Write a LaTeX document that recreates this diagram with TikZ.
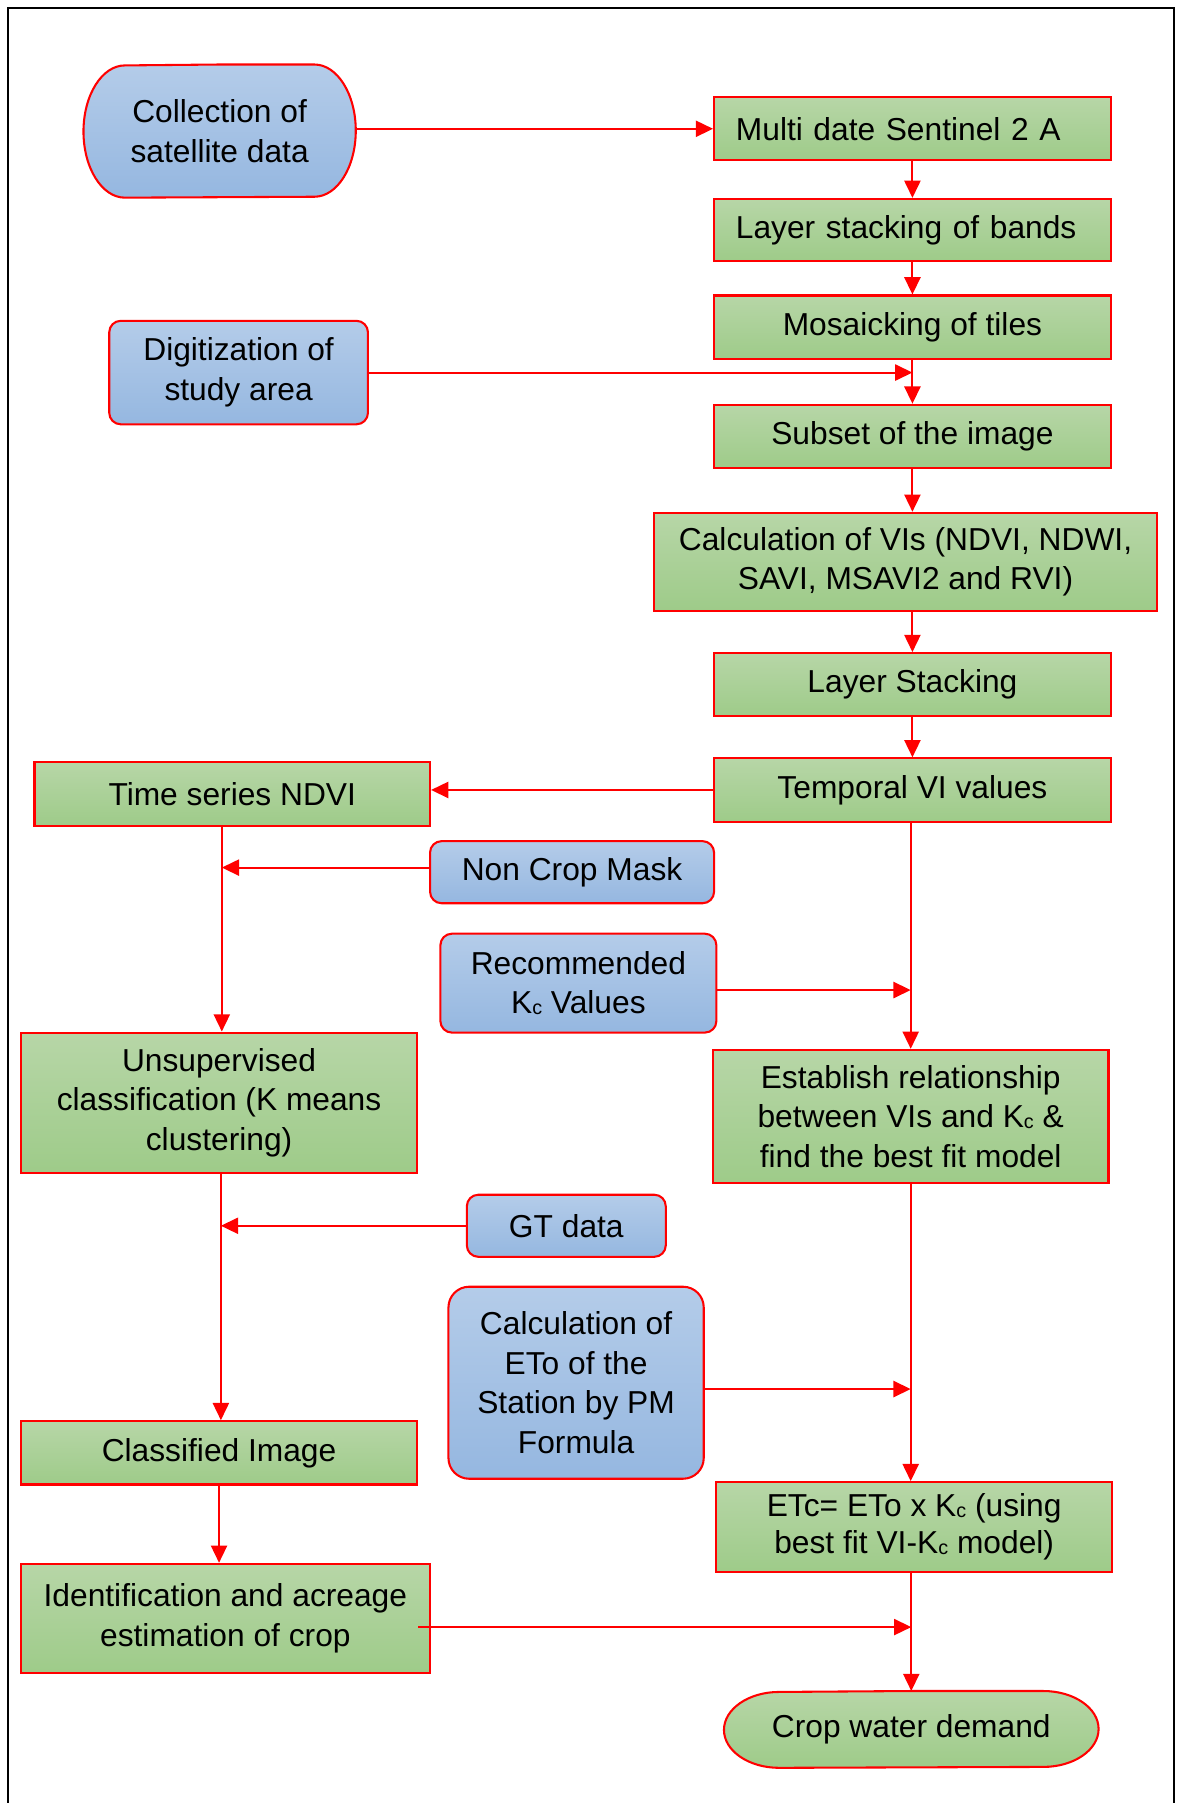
\documentclass[tikz,border=0pt]{standalone}
\usepackage{fontspec}
\setmainfont{Liberation Sans}
\usetikzlibrary{arrows.meta,backgrounds}
\definecolor{bluetop}{HTML}{B4CCE9}
\definecolor{bluebot}{HTML}{95B7E0}
\definecolor{greentop}{HTML}{B7D6A7}
\definecolor{greenbot}{HTML}{9ECB89}
\definecolor{edgered}{HTML}{FF0000}
\newcommand{\Kc}{K\raisebox{-0.4pt}{\fontsize{8.6}{8.6}\selectfont c}}
\tikzset{
  base/.style={draw=edgered, line width=0.9pt, inner sep=2pt, align=center,
    font=\fontsize{13.8}{17.2}\selectfont, text=black},
  gbox/.style={base, rectangle, top color=greentop, bottom color=greenbot},
  bbox/.style={base, rectangle, rounded corners=5pt, top color=bluetop, bottom color=bluebot},
  ghost/.style={rectangle, inner sep=0pt, align=center,
    font=\fontsize{13.8}{17.2}\selectfont, text=black},
  leftbox/.style={gbox, align=left, inner xsep=9.5pt, text width=153.5pt},
  arr/.style={draw=edgered, line width=0.9pt, -{Triangle[length=7.5pt,width=7pt]}},
  sz/.style 2 args={minimum width=#1pt, minimum height=#2pt},
  termline/.style={draw=edgered, line width=0.9pt, line join=round},
}
\begin{document}
\begin{tikzpicture}[x=0.5pt,y=-0.5pt]
\useasboundingbox (0,0) rectangle (1024,1568);
\draw[line width=1pt] (7,1575) -- (7,7) -- (1021,7) -- (1021,1575);

% nodes
\node[ghost, sz={118}{57.5}] (coll) at (191,114) {Collection of\\satellite data};
\node[leftbox, minimum height=27.5pt] (multi) at (793.5,112) {Multi date Sentinel 2 A};
\node[leftbox, minimum height=27pt] (lsb) at (793.5,200) {Layer stacking of bands};
\node[gbox, sz={172.5}{27.5}] (mos) at (793.5,284.5) {Mosaicking of tiles};
\node[bbox, sz={112.5}{45}] (dig) at (207.5,324) {Digitization of\\study area};
\node[gbox, sz={172.5}{27.5}] (sub) at (793.5,379.5) {Subset of the image};
\node[gbox, sz={218.5}{42.5}] (calc) at (787.5,488.5) {Calculation of VIs (NDVI, NDWI,\\SAVI, MSAVI2 and RVI)};
\node[gbox, sz={172.5}{27.5}] (ls) at (793.5,595.5) {Layer Stacking};
\node[gbox, sz={172.5}{27.5}] (temp) at (793.5,687) {Temporal VI values};
\node[gbox, sz={172}{27.5}] (tsn) at (202,690.5) {Time series NDVI};
\node[bbox, sz={123.5}{27}] (ncm) at (497.5,758.5) {Non Crop Mask};
\node[bbox, sz={120}{43}] (rec) at (503,855) {Recommended\\\Kc{} Values};
\node[gbox, sz={172.5}{61}] (uns) at (190.5,959) {Unsupervised\\classification (K means\\clustering)};
\node[gbox, sz={172}{58}] (est) at (792,971) {Establish relationship\\between VIs and \Kc{} \&\\find the best fit model};
\node[bbox, sz={86.5}{27}] (gt) at (492.5,1066) {GT data};
\node[bbox, rounded corners=9pt, sz={111}{83.5}] (eto) at (501,1202.5) {Calculation of\\ETo of the\\Station by PM\\Formula};
\node[gbox, sz={172.5}{27.5}] (cls) at (190.5,1263.5) {Classified Image};
\node[gbox, sz={172}{39}, font=\fontsize{13.8}{16}\selectfont] (etc) at (795,1328) {ETc= ETo x \Kc{} (using\\best fit VI-\Kc{} model)};
\node[gbox, sz={178}{47.5}] (ident) at (196,1407.5) {Identification and acreage\\estimation of crop};
\node[ghost, sz={162.5}{33}] (cwd) at (792.5,1504) {Crop water demand};

% terminal shapes (elliptical ends)
\begin{scope}[on background layer]
\shade[top color=bluetop, bottom color=bluebot, termline]
  (coll.north) -- ([xshift=-18pt]coll.north east)
  arc[start angle=90, end angle=-90, x radius=18pt, y radius=28.75pt]
  -- ([xshift=18pt]coll.south west)
  arc[start angle=270, end angle=90, x radius=18pt, y radius=28.75pt] -- cycle;
\shade[top color=greentop, bottom color=greenbot, termline]
  (cwd.north) -- ([xshift=-24pt]cwd.north east)
  arc[start angle=90, end angle=-90, x radius=24pt, y radius=16.5pt]
  -- ([xshift=24pt]cwd.south west)
  arc[start angle=270, end angle=90, x radius=24pt, y radius=16.5pt] -- cycle;
\end{scope}

% helper coordinates
\coordinate (unsTop) at ([xshift=1.2pt]uns.north);
\coordinate (clsTop) at ([xshift=0.8pt]cls.north);
\coordinate (digT) at (dig.east -| mos.south);
\coordinate (ncmS) at ([yshift=2pt]ncm.west);
\coordinate (ncmT) at (ncmS -| unsTop);
\coordinate (recS) at ([yshift=-3pt]rec.east);
\coordinate (recT) at (recS -| est.north);
\coordinate (gtT) at (gt.west -| clsTop);
\coordinate (etoS) at ([yshift=-2.75pt]eto.east);
\coordinate (etoT) at (etoS -| est.south);
\coordinate (idS) at ([xshift=-5.5pt,yshift=-3.75pt]ident.east);
\coordinate (idT) at (idS -| cwd.north);

% connectors
\draw[arr] (coll.east |- multi.west) -- (multi.west);
\draw[arr] (multi.south) -- (lsb.north);
\draw[arr] (lsb.south) -- (mos.north);
\draw[arr] (mos.south) -- (sub.north);
\draw[arr] (dig.east) -- (digT);
\draw[arr] (sub.south) -- (sub.south |- calc.north);
\draw[arr] (ls.north |- calc.south) -- (ls.north);
\draw[arr] (ls.south) -- (temp.north);
\draw[arr] (temp.west) -- (temp.west -| tsn.east);
\draw[arr] (tsn.south -| unsTop) -- (unsTop);
\draw[arr] (ncmS) -- (ncmT);
\draw[arr] (temp.south -| est.north) -- (est.north);
\draw[arr] (recS) -- (recT);
\draw[arr] (uns.south -| clsTop) -- (clsTop);
\draw[arr] (gt.west) -- (gtT);
\draw[arr] (est.south) -- (est.south |- etc.north);
\draw[arr] (etoS) -- (etoT);
\draw[arr] (cls.south) -- (cls.south |- ident.north);
\draw[arr] (idS) -- (idT);
\draw[arr] (cwd.north |- etc.south) -- (cwd.north);
\end{tikzpicture}
\end{document}
